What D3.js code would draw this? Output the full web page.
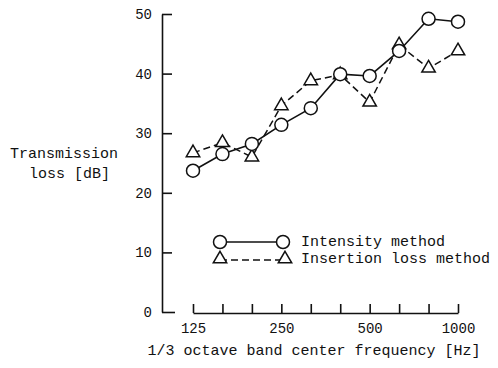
<!DOCTYPE html>
<html>
<head>
<meta charset="utf-8">
<script src="https://cdn.jsdelivr.net/npm/d3@7"></script>
<style>
  body { margin: 0; background: #fff; }
  text { font-family: "Liberation Mono", "DejaVu Sans Mono", monospace; fill: #111; }
</style>
</head>
<body>
<div id="chart"></div>
<script>
const freqs = ["125", "160", "200", "250", "315", "400", "500", "630", "800", "1000"];
const intensity = [23.7, 26.5, 28.2, 31.4, 34.2, 39.9, 39.6, 43.8, 49.2, 48.7];
const insertion = [26.7, 28.4, 26.0, 34.6, 38.8, 39.8, 35.2, 44.8, 40.9, 43.8];
const xLabels = ["125", "250", "500", "1000"];
const yTicks = [0, 10, 20, 30, 40, 50];

const width = 498;
const height = 368;

const svg = d3
  .select("#chart")
  .append("svg")
  .attr("width", width)
  .attr("height", height);

const xScale = d3.scalePoint().domain(freqs).range([193, 458]);
const yScale = d3.scaleLinear().domain([0, 50]).range([312, 14]);

// y axis, ticks pointing inward
const yAxis = svg
  .append("g")
  .attr("transform", "translate(162,0)")
  .call(
    d3.axisLeft(yScale).tickValues(yTicks).tickSizeInner(-10).tickSizeOuter(0).tickPadding(10)
  );
yAxis.selectAll("text").style("font-size", "14px");
yAxis.selectAll("path, line").attr("stroke", "#111").attr("stroke-width", 1.6);
yAxis.select(".tick:first-of-type line").attr("x2", 13);

// x axis, separate from y axis
const xAxis = svg
  .append("g")
  .attr("transform", "translate(0,313)")
  .call(
    d3
      .axisBottom(xScale)
      .tickSizeInner(-9)
      .tickSizeOuter(0)
      .tickPadding(10)
      .tickFormat((d) => (xLabels.includes(d) ? d : ""))
  );
xAxis.selectAll("text").style("font-size", "14px");
xAxis.selectAll("path, line").attr("stroke", "#111").attr("stroke-width", 1.6);

const rowsA = freqs.map((f, i) => ({ f, v: intensity[i] }));
const rowsB = freqs.map((f, i) => ({ f, v: insertion[i] }));

const line = d3
  .line()
  .x((d) => xScale(d.f))
  .y((d) => yScale(d.v));

const tri = d3.symbol().type(d3.symbolTriangle).size(78);

// insertion loss (dashed, triangles)
svg
  .append("path")
  .datum(rowsB)
  .attr("d", line)
  .attr("fill", "none")
  .attr("stroke", "#111")
  .attr("stroke-width", 1.5)
  .attr("stroke-dasharray", "7,4");

svg
  .selectAll(".tri")
  .data(rowsB)
  .enter()
  .append("path")
  .attr("class", "tri")
  .attr("d", tri)
  .attr("transform", (d) => `translate(${xScale(d.f)},${yScale(d.v)})`)
  .attr("fill", "#fff")
  .attr("stroke", "#111")
  .attr("stroke-width", 1.5);

// intensity (solid, circles)
svg
  .append("path")
  .datum(rowsA)
  .attr("d", line)
  .attr("fill", "none")
  .attr("stroke", "#111")
  .attr("stroke-width", 1.6);

svg
  .selectAll(".dot")
  .data(rowsA)
  .enter()
  .append("circle")
  .attr("class", "dot")
  .attr("cx", (d) => xScale(d.f))
  .attr("cy", (d) => yScale(d.v))
  .attr("r", 6.5)
  .attr("fill", "#fff")
  .attr("stroke", "#111")
  .attr("stroke-width", 1.5);

// legend
const legend = svg.append("g");
legend.append("line").attr("x1", 220).attr("x2", 283).attr("y1", 242).attr("y2", 242)
  .attr("stroke", "#111").attr("stroke-width", 1.6);
[220, 283].forEach((x) => {
  legend.append("circle").attr("cx", x).attr("cy", 242).attr("r", 6.5)
    .attr("fill", "#fff").attr("stroke", "#111").attr("stroke-width", 1.5);
});
legend.append("line").attr("x1", 220).attr("x2", 285).attr("y1", 260).attr("y2", 260)
  .attr("stroke", "#111").attr("stroke-width", 1.5).attr("stroke-dasharray", "7,4");
[220, 285].forEach((x) => {
  legend.append("path").attr("d", tri).attr("transform", `translate(${x},259)`)
    .attr("fill", "#fff").attr("stroke", "#111").attr("stroke-width", 1.5);
});
legend.append("text").attr("x", 301).attr("y", 246).style("font-size", "15px").text("Intensity method");
legend.append("text").attr("x", 301).attr("y", 263).style("font-size", "15px").text("Insertion loss method");

// axis titles
svg.append("text").attr("x", 10).attr("y", 158).style("font-size", "15px").text("Transmission");
svg.append("text").attr("x", 29).attr("y", 178).style("font-size", "15px").text("loss [dB]");
svg
  .append("text")
  .attr("x", 314)
  .attr("y", 355)
  .attr("text-anchor", "middle")
  .style("font-size", "15px")
  .text("1/3 octave band center frequency [Hz]");
</script>
</body>
</html>
